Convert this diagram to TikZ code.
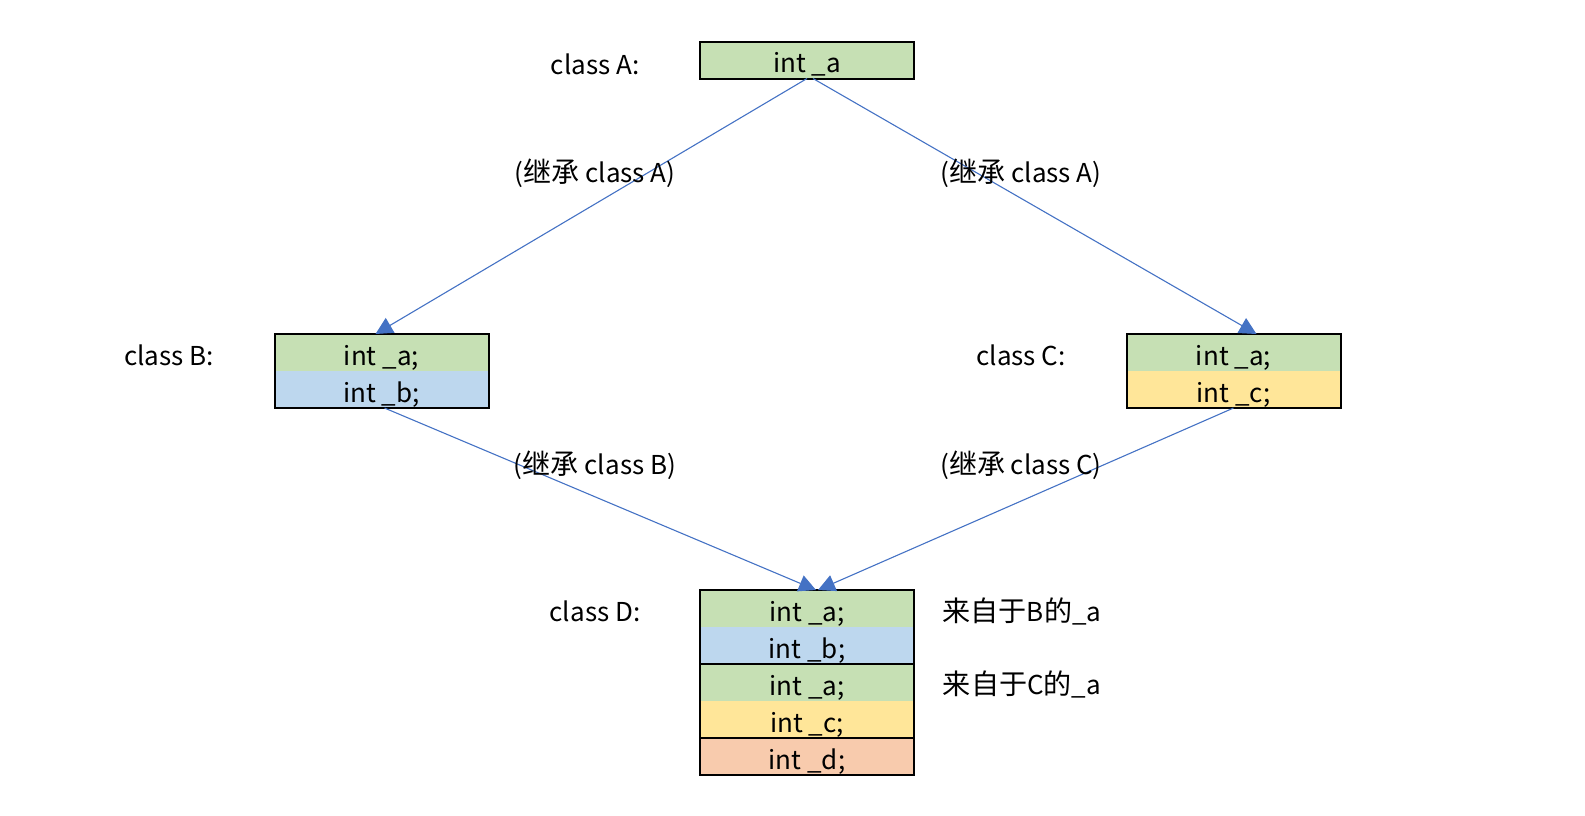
\documentclass[tikz,border=0pt]{standalone}
\usepackage{fontspec}
\setmainfont{Noto Sans CJK SC}
\newfontfamily\cjkwide[Scale=1.08]{Noto Sans CJK SC}
\usetikzlibrary{arrows.meta,positioning}
\definecolor{fieldgreen}{HTML}{C6E0B4}
\definecolor{fieldblue}{HTML}{BDD7EE}
\definecolor{fieldyellow}{HTML}{FFE699}
\definecolor{fieldorange}{HTML}{F8CBAD}
\definecolor{linkblue}{HTML}{4472C4}
\tikzset{
    every picture/.style={line join=miter},
    field/.style={minimum width=107pt,minimum height=18.5pt,inner sep=0pt,
      outer sep=0pt,text height=12.5pt,text depth=0pt,
      font=\fontsize{13}{15}\selectfont},
    groupbox/.style={draw=black,line width=1pt},
    caption/.style={font=\fontsize{13}{15}\selectfont,inner sep=0pt},
    inherit/.style={-{Triangle[length=8.5pt,width=8.5pt]},draw=linkblue,
      line width=0.55pt}
}

\begin{document}
\begin{tikzpicture}[x=0.5pt,y=-0.5pt]
  \useasboundingbox (0,0) rectangle (1585,815);
  % class A
  \node[field,fill=fieldgreen] (a1) at (807,60) {int \_a};
  \draw[groupbox] (a1.north west) rectangle (a1.south east);
  \node[caption] (capA) at (595,64) {class A:};
  % class B and class C
  \node[field,fill=fieldgreen] (b1) at (381.5,352.5) {int \_a;};
  \node[field,fill=fieldblue,below=0pt of b1] (b2) {int \_b;};
  \draw[groupbox] (b1.north west) rectangle (b2.south east);
  \node[caption] (capB) at (169,355) {class B:};
  \node[field,fill=fieldgreen] (c1) at (1233.5,352.5) {int \_a;};
  \node[field,fill=fieldyellow,below=0pt of c1] (c2) {int \_c;};
  \draw[groupbox] (c1.north west) rectangle (c2.south east);
  \node[caption] (capC) at (1021,355) {class C:};
  % class D
  \node[field,fill=fieldgreen] (d1) at (807,608.5) {int \_a;};
  \foreach \i/\p/\c/\t in {2/1/fieldblue/b,3/2/fieldgreen/a,4/3/fieldyellow/c,5/4/fieldorange/d}
    \node[field,fill=\c,below=0pt of d\p] (d\i) {int \_\t;};
  \draw[groupbox] (d1.north west) rectangle (d2.south east);
  \draw[groupbox] (d3.north west) rectangle (d4.south east);
  \draw[groupbox] (d5.north west) rectangle (d5.south east);
  \node[caption] (capD) at (595,611) {class D:};
  \node[caption] (fromB) at (1022,611) {{\cjkwide 来自于}B{\cjkwide 的}\_a};
  \node[caption] (fromC) at (1022,684) {{\cjkwide 来自于}C{\cjkwide 的}\_a};
  % inheritance
  \draw[inherit] (a1.south) -- ([xshift=-3pt]b1.north);
  \draw[inherit] ([xshift=3pt]a1.south) -- ([xshift=11.5pt]c1.north);
  \draw[inherit] ([xshift=1.5pt]b2.south) -- ([xshift=4.5pt]d1.north);
  \draw[inherit] (c2.south) -- ([xshift=5.5pt]d1.north);
  \node[caption] (viaA1) at (595,173) {({\cjkwide 继承} class A)};
  \node[caption] (viaA2) at (1021,173) {({\cjkwide 继承} class A)};
  \node[caption] (viaB) at (595,465) {({\cjkwide 继承} class B)};
  \node[caption] (viaC) at (1021,465) {({\cjkwide 继承} class C)};
\end{tikzpicture}
\end{document}
